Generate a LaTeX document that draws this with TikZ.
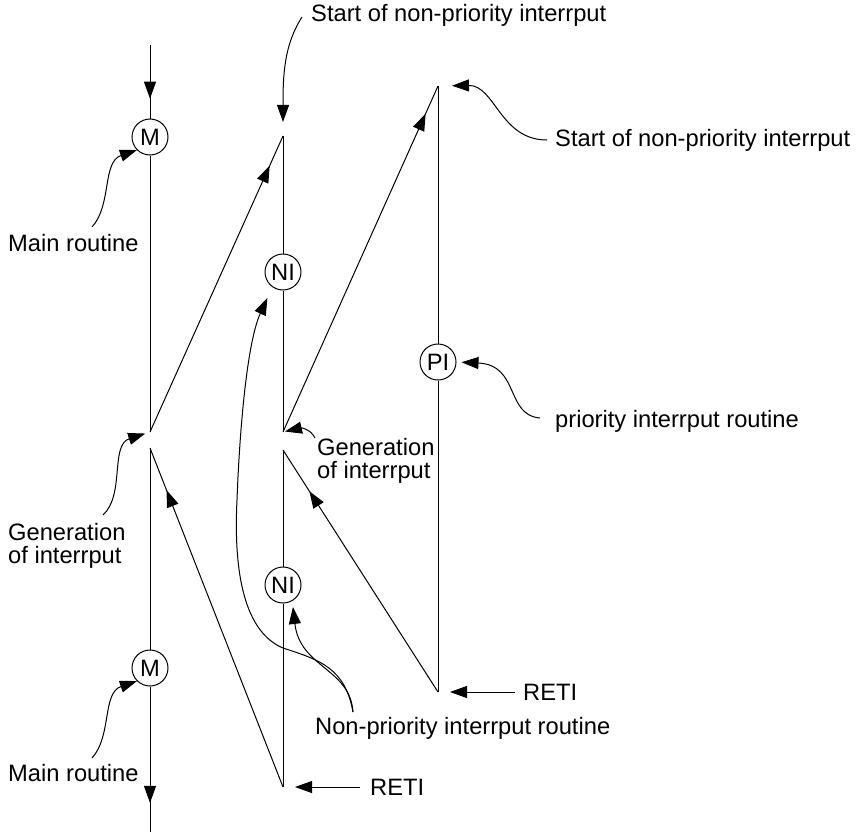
\documentclass[tikz,border=0pt]{standalone}
\usepackage{fontspec}
\setmainfont{Liberation Sans}
\usetikzlibrary{arrows.meta,decorations.markings}

\begin{document}
\begin{tikzpicture}[x=1pt, y=-1pt,
    font=\fontsize{23.7}{23}\selectfont,
    flow/.style={line width=1pt},
    routine/.style={draw, circle, line width=1pt, minimum size=36pt, inner sep=0pt, fill=white},
    lbl/.style={anchor=west, inner sep=0pt, align=left},
    lead/.style={line width=1pt, -{Triangle[length=17pt,width=12pt]}},
    midarrow/.style={postaction={decorate}, decoration={markings, mark=at position #1 with {\arrow{Triangle[length=17pt,width=12pt]}}}}]
    \useasboundingbox (0,0) rectangle (858,832);

    % Main routine
    \coordinate (top) at (150,45);
    \node[routine] (m1) at (150,137) {M};
    \coordinate (gen1a) at (150,432);
    \coordinate (gen1b) at (150,448);
    \node[routine] (m2) at (150,668) {M};
    \coordinate (bot) at (150,832);

    % Non-priority interrupt
    \coordinate (nitop) at (283,136);
    \node[routine] (ni1) at (283,272) {NI};
    \coordinate (gen2a) at (283,432);
    \coordinate (gen2b) at (283,450);
    \node[routine] (ni2) at (283,585) {NI};
    \coordinate (reti1) at (283,787);

    % Priority interrupt
    \coordinate (pitop) at (438,86);
    \node[routine] (pi) at (438,362) {PI};
    \coordinate (reti2) at (438,692);

    \draw[flow, midarrow=0.73] (top) -- (m1);
    \draw[flow] (m1) -- (gen1a) (gen1b) -- (m2);
    \draw[flow, midarrow=0.8] (m2) -- (bot);
    \draw[flow] (nitop) -- (ni1) -- (gen2a) (gen2b) -- (ni2) -- (reti1);
    \draw[flow] (pitop) -- (pi) -- (reti2);
    \draw[flow, midarrow=0.9] (gen1a) -- (nitop);
    \draw[flow, midarrow=0.876] (reti1) -- (gen1b);
    \draw[flow, midarrow=0.92] (gen2a) -- (pitop);
    \draw[flow, midarrow=0.83] (reti2) -- (gen2b);

    % Labels
    \node[lbl] (lblStart1) at (311,15) {Start of non-priority interrput};
    \node[lbl] (lblMain1) at (8,243) {Main routine};
    \node[lbl] (lblStart2) at (555,140) {Start of non-priority interrput};
    \node[lbl] (lblPI) at (555,421) {priority interrput routine};
    \node[lbl] (lblGen2) at (317,461) {Generation\\of interrput};
    \node[lbl] (lblGen1) at (8,546) {Generation\\of interrput};
    \node[lbl] (lblNPI) at (315,728) {Non-priority interrput routine};
    \node[lbl] (lblRETI2) at (523,692) {RETI};
    \node[lbl] (lblRETI1) at (370,787) {RETI};
    \node[lbl] (lblMain2) at (8,773) {Main routine};

    % Leaders
    \coordinate (s1) at (302,17);
    \coordinate (s2) at (547,140);
    \coordinate (s3) at (540,418);
    \coordinate (s4) at (315,438);
    \coordinate (s5) at (103,515);
    \coordinate (s6) at (92,227);
    \coordinate (s7) at (92,758);
    \coordinate (s8) at (353,712);
    \draw[lead, shorten >=14pt] (s1) .. controls (284,45) and (283,75) .. (nitop);
    \draw[lead, shorten >=14pt] (s2) .. controls (500,140) and (495,85) .. (pitop);
    \draw[lead, shorten >=5pt] (s3) .. controls (505,415) and (520,365) .. (pi.east);
    \draw[lead, shorten >=2pt] (s4) .. controls (310,428) and (300,428) .. (gen2a);
    \draw[lead, shorten >=5pt] (s5) .. controls (125,495) and (110,445) .. (gen1a);
    \draw[lead] (s6) .. controls (112,205) and (102,162) .. (m1.225);
    \draw[lead] (s7) .. controls (112,736) and (102,693) .. (m2.225);
    \draw[lead, shorten >=6pt] (s8) .. controls (350,668) and (300,668) .. (ni2.-60);
    \draw[lead, shorten >=12pt] (s8) .. controls (345,668) and (320,660) .. (283,648)
        .. controls (240,630) and (234,560) .. (237,500)
        .. controls (240,420) and (248,340) .. (ni1.235);
    \draw[lead, shorten <=10pt, shorten >=12pt] (lblRETI1.west) -- (reti1);
    \draw[lead, shorten <=8pt, shorten >=12pt] (lblRETI2.west) -- (reti2);
\end{tikzpicture}
\end{document}
